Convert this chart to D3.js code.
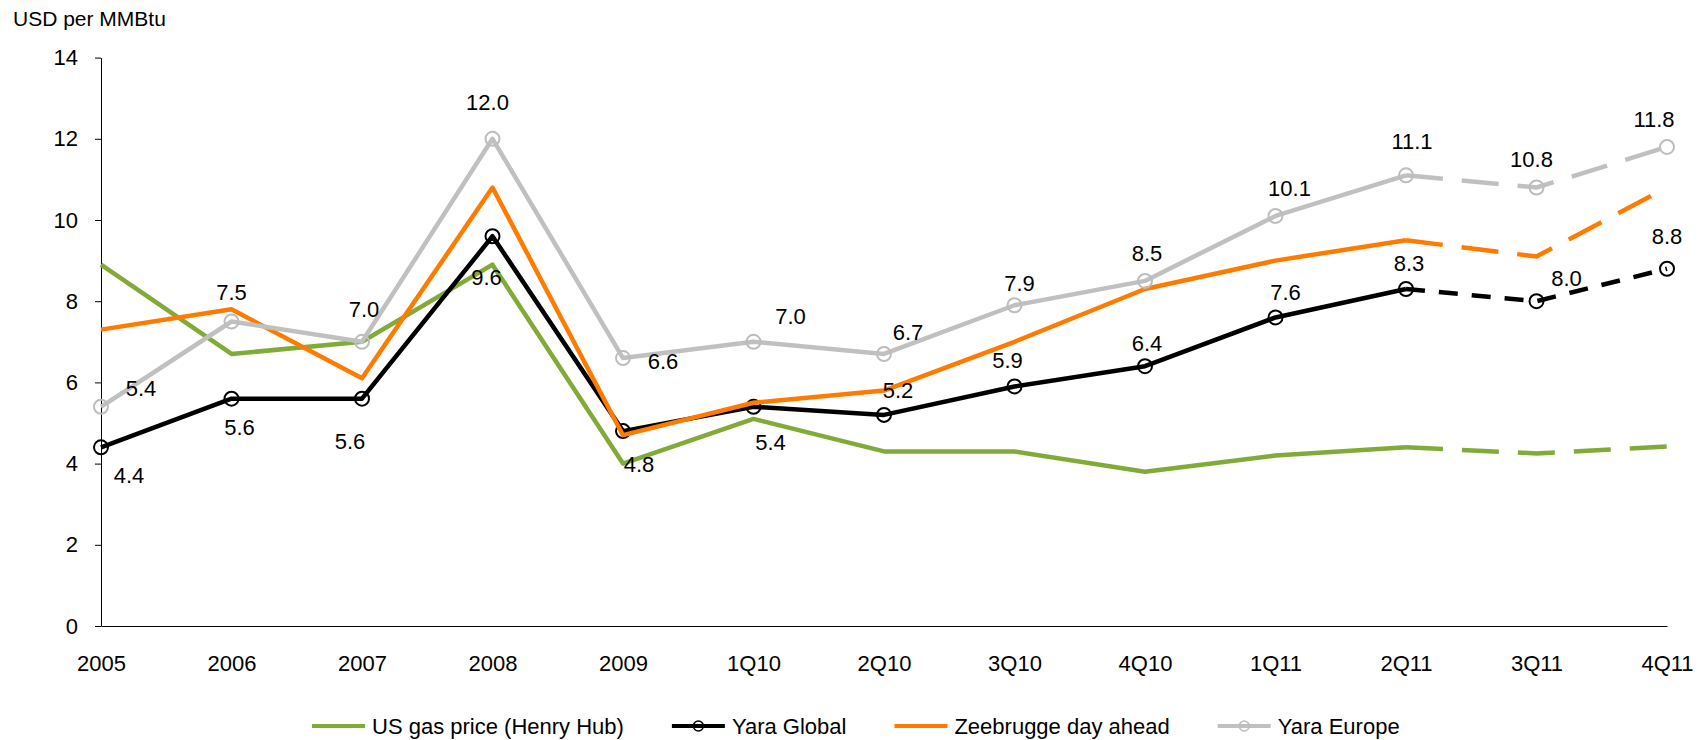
<!DOCTYPE html>
<html>
<head>
<meta charset="utf-8">
<script src="https://cdn.jsdelivr.net/npm/d3@7"></script>
<style>
  html, body { margin: 0; padding: 0; background: #fff; }
  svg { display: block; font-family: "Liberation Sans", Arial, sans-serif; }
</style>
</head>
<body>
<svg id="chart" width="1699" height="740"></svg>
<script>
// ---------------- DATA ----------------
const categories = ["2005","2006","2007","2008","2009","1Q10","2Q10","3Q10","4Q10","1Q11","2Q11","3Q11","4Q11"];
const henryHub   = [8.9, 6.7, 7.0, 8.9, 4.0, 5.1, 4.3, 4.3, 3.8, 4.2, 4.4, 4.25, 4.42];
const yaraGlobal = [4.4, 5.6, 5.6, 9.6, 4.8, 5.4, 5.2, 5.9, 6.4, 7.6, 8.3, 8.0, 8.8];
const zeebrugge  = [7.3, 7.8, 6.1, 10.8, 4.7, 5.5, 5.8, 7.0, 8.3, 9.0, 9.5, 9.1, 10.8];
const yaraEurope = [5.4, 7.5, 7.0, 12.0, 6.6, 7.0, 6.7, 7.9, 8.5, 10.1, 11.1, 10.8, 11.8];
const seriesNames = ["US gas price (Henry Hub)", "Yara Global", "Zeebrugge day ahead", "Yara Europe"];
const yTicks = [0, 2, 4, 6, 8, 10, 12, 14];
const yTitle = "USD per MMBtu";
const dashedFrom = "2Q11"; // segments from this category onward are dashed

// ---------------- STYLE / LABEL PLACEMENT ----------------
const colors = ["#81aa37", "#000000", "#ff7b00", "#c0c0c0"];
const hasMarker = [false, true, false, true];
const dashPatterns = ["37,19", "19,14", "37,19", "37,19"];
// pixel offsets of value labels (centre of text relative to point)
const globalLabelOffsets = [[28,28],[8,29],[-12,43],[-6,41],[16,33],[17,36],[14,-25],[-7,-26],[2,-23],[10,-25],[3,-26],[30,-23],[0,-32]];
const europeLabelOffsets = [[40,-18],[0,-29],[2,-33],[-5,-37],[40,3],[37,-26],[24,-22],[5,-22],[2,-28],[14,-28],[6,-34],[-5,-28],[-13,-28]];

const FONT = 22;
const svg = d3.select("#chart");

const x = d3.scalePoint().domain(categories).range([101, 1667]).padding(0);
const y = d3.scaleLinear().domain([0, 14]).range([626, 57.6]);

// Y title
svg.append("text").attr("x", 13).attr("y", 26).attr("font-size", 21).attr("fill", "#000").text(yTitle);

// Y axis
const yAxis = svg.append("g").attr("transform", "translate(101,0)")
  .call(d3.axisLeft(y).tickValues(yTicks).tickFormat(d3.format("d")).tickSize(6).tickSizeOuter(0).tickPadding(17));
yAxis.selectAll("text").attr("font-size", FONT).attr("fill", "#000").attr("font-family", "Liberation Sans, Arial, sans-serif");
yAxis.selectAll("line").attr("stroke", "#000");
yAxis.select(".domain").attr("stroke", "#000");

// X axis
const xAxis = svg.append("g").attr("transform", "translate(0,626)")
  .call(d3.axisBottom(x).tickSize(0).tickSizeOuter(0).tickPadding(29));
xAxis.selectAll("text").attr("font-size", FONT).attr("fill", "#000").attr("font-family", "Liberation Sans, Arial, sans-serif");
xAxis.select(".domain").attr("stroke", "#000");

// Lines
const allSeries = [henryHub, yaraGlobal, zeebrugge, yaraEurope];
const splitIdx = categories.indexOf(dashedFrom);
const line = d3.line().x(d => x(d.c)).y(d => y(d.v));

allSeries.forEach((vals, si) => {
  const pts = vals.map((v, i) => ({ c: categories[i], v }));
  const g = svg.append("g");
  g.append("path").datum(pts.slice(0, splitIdx + 1)).attr("d", line)
    .attr("fill", "none").attr("stroke", colors[si]).attr("stroke-width", 4.5).attr("stroke-linejoin", "round");
  g.append("path").datum(pts.slice(splitIdx)).attr("d", line)
    .attr("fill", "none").attr("stroke", colors[si]).attr("stroke-width", 4.5)
    .attr("stroke-dasharray", dashPatterns[si]).attr("stroke-linejoin", "round");
  if (hasMarker[si]) {
    g.selectAll("circle").data(pts).join("circle")
      .attr("cx", d => x(d.c)).attr("cy", d => y(d.v)).attr("r", 7)
      .attr("fill", "none").attr("stroke", colors[si] === "#000000" ? "#000" : "#bdbdbd").attr("stroke-width", 2);
  }
});

// Value labels
function addLabels(vals, offs) {
  svg.append("g").selectAll("text").data(vals).join("text")
    .attr("x", (v, i) => x(categories[i]) + offs[i][0])
    .attr("y", (v, i) => y(v) + offs[i][1])
    .attr("dy", "0.35em")
    .attr("text-anchor", "middle")
    .attr("font-size", FONT).attr("fill", "#000")
    .text(v => d3.format(".1f")(v));
}
addLabels(yaraGlobal, globalLabelOffsets);
addLabels(yaraEurope, europeLabelOffsets);

// Legend
const legend = svg.append("g");
let lx = 312;
const ly = 726;
seriesNames.forEach((name, si) => {
  const item = legend.append("g");
  item.append("line").attr("x1", lx).attr("x2", lx + 53).attr("y1", ly).attr("y2", ly)
    .attr("stroke", colors[si]).attr("stroke-width", 4);
  if (hasMarker[si]) {
    item.append("circle").attr("cx", lx + 26.5).attr("cy", ly).attr("r", 5)
      .attr("fill", "none").attr("stroke", colors[si] === "#000000" ? "#000" : "#bdbdbd").attr("stroke-width", 1.5);
  }
  const t = item.append("text").attr("x", lx + 60).attr("y", ly).attr("dy", "0.35em")
    .attr("font-size", FONT).attr("fill", "#000").text(name);
  const w = t.node().getComputedTextLength();
  lx = lx + 60 + w + 48;
});
</script>
</body>
</html>
